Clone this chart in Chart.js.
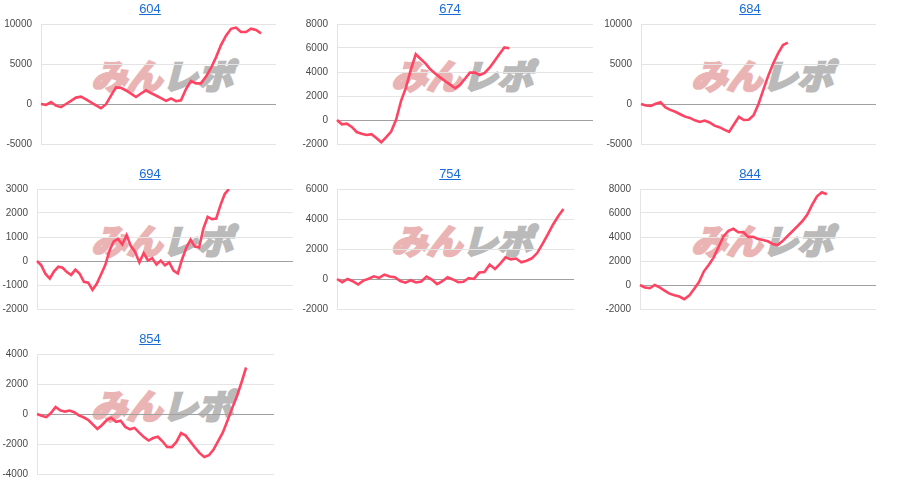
<!DOCTYPE html>
<html>
<head>
<meta charset="utf-8">
<script src="https://cdn.jsdelivr.net/npm/chart.js@4.4.1/dist/chart.umd.min.js"></script>
<style>
  body { margin: 0; background: #fff; font-family: "Liberation Sans", Arial, sans-serif; }
  #grid { display: grid; grid-template-columns: repeat(3, 300px); grid-auto-rows: 165px; }
  .cell { position: relative; width: 300px; height: 165px; }
  .cell a { position: absolute; left: 0; right: 0; top: 1px; text-align: center; font-size: 13px; line-height: 16px; color: #1a6dd8; }
  .mark { position: absolute; left: 95px; top: 56px; font-family: "Noto Sans CJK JP"; font-weight: bold; font-size: 34px; line-height: 38px; transform: skewX(-15deg) scaleX(1.04); transform-origin: left center; white-space: nowrap; }
  .mark .a { color: #ebb4b4; -webkit-text-stroke: 3px #ebb4b4; }
  .mark .b { color: #bababa; -webkit-text-stroke: 3px #bababa; }
  canvas { position: absolute; left: 0; top: 0; }
</style>
</head>
<body>
<div id="grid"></div>
<script>
// machine numbers (chart titles)
const machineNos = ["604", "674", "684", "694", "754", "844", "854"];
// number of x slots on each chart (the line stops before the end)
const slots = [48, 53, 49, 61, 46, 49, 52];

// running difference per machine
const diff604 = [0, -100, 250, -210, -400, 0, 400, 800, 920, 580, 210, -170, -520, -30, 1040, 2080, 2020, 1690, 1290, 870,
  1310, 1710, 1350, 1060, 730, 390, 690, 350, 460, 1870, 2880, 2580, 2580, 3420, 4500, 5830, 7370, 8540, 9400, 9550,
  9000, 9000, 9420, 9250, 8830];
const diff674 = [0, -360, -300, -580, -1000, -1140, -1250, -1180, -1500, -1860, -1420, -960, 20, 1580, 2700, 4200, 5480, 5080,
  4700, 4200, 3850, 3530, 3230, 2950, 2650, 2940, 3440, 3950, 3950, 3750, 3920, 4360, 4920, 5500, 6050, 5980];
const diff684 = [0, -190, -250, 20, 210, -420, -730, -970, -1280, -1580, -1740, -2040, -2240, -2070, -2310, -2710, -2900,
  -3210, -3480, -2540, -1600, -2000, -1960, -1400, 0, 1800, 3540, 5060, 6330, 7370, 7670];
const diff694 = [0, -180, -540, -730, -430, -240, -280, -460, -580, -360, -530, -870, -900, -1200, -950, -560, -170, 435,
  820, 920, 690, 1080, 620, 375, -60, 330, 20, 120, -150, 20, -180, -60, -400, -520, 75, 555, 890, 600, 560, 1350, 1835,
  1740, 1770, 2330, 2790, 3000];
const diff754 = [0, -210, 0, -150, -370, -110, 20, 180, 70, 295, 165, 115, -135, -245, -80, -230, -170, 165, -35, -340,
  -145, 120, -30, -210, -180, 65, 5, 430, 465, 960, 665, 1020, 1445, 1310, 1365, 1110, 1220, 1380, 1730, 2320, 2960,
  3620, 4180, 4670];
const diff844 = [0, -210, -270, 0, -200, -470, -720, -850, -960, -1180, -890, -330, 250, 1140, 1690, 2300, 3190, 4070,
  4510, 4680, 4400, 4420, 4010, 4010, 3830, 3750, 3640, 3420, 3330, 3660, 4070, 4480, 4890, 5310, 5850, 6680, 7390,
  7730, 7560];
const diff854 = [0, -110, -210, 65, 470, 240, 160, 230, 120, -90, -220, -385, -695, -1000, -730, -400, -255, -525, -455,
  -860, -1020, -925, -1240, -1540, -1770, -1600, -1520, -1820, -2200, -2210, -1860, -1270, -1440, -1840, -2230, -2610,
  -2870, -2750, -2370, -1790, -1230, -430, 390, 1170, 2100, 3100];

// y axis ranges
const yMin = [-5000, -2000, -5000, -2000, -2000, -2000, -4000];
const yMax = [10000, 8000, 10000, 3000, 6000, 8000, 4000];
const yStep = [5000, 2000, 5000, 1000, 2000, 2000, 2000];

const series = [diff604, diff674, diff684, diff694, diff754, diff844, diff854];

// plot area edges inside each 300px cell
const plotLeft = [41, 37, 41, 37, 37, 40, 37];
const plotRight = [276, 293, 276, 293, 274, 276, 274];

const grid = document.getElementById("grid");

machineNos.forEach(function (no, k) {
  const cell = document.createElement("div");
  cell.className = "cell";
  cell.innerHTML = '<div class="mark"><span class="a">みん</span><span class="b">レポ</span></div>' +
    '<canvas width="300" height="165"></canvas><a href="#">' + no + '</a>';
  grid.appendChild(cell);

  const labels = [];
  for (let i = 1; i <= slots[k]; i++) labels.push(String(i));

  new Chart(cell.querySelector("canvas"), {
    type: "line",
    data: {
      labels: labels,
      datasets: [{
        data: series[k],
        borderColor: "#ff4463",
        borderWidth: 2.6,
        pointRadius: 0,
        tension: 0,
        fill: false
      }]
    },
    options: {
      responsive: false,
      devicePixelRatio: 1,
      animation: false,
      layout: { padding: { top: 24, bottom: 21, left: 0, right: 300 - plotRight[k] } },
      plugins: { legend: { display: false }, tooltip: { enabled: false } },
      scales: {
        x: { display: false },
        y: {
          min: yMin[k],
          max: yMax[k],
          afterFit: function (scale) { scale.width = plotLeft[k]; },
          ticks: {
            stepSize: yStep[k],
            padding: 9,
            color: "#4a4a4a",
            font: { family: "Liberation Sans, Arial", size: 10 },
            callback: function (v) { return String(v); }
          },
          grid: {
            drawTicks: false,
            color: function (c) { return c.tick && c.tick.value === 0 ? "#a0a0a0" : "#e4e4e4"; }
          },
          border: { color: "#e4e4e4" }
        }
      }
    }
  });
});
</script>
</body>
</html>
